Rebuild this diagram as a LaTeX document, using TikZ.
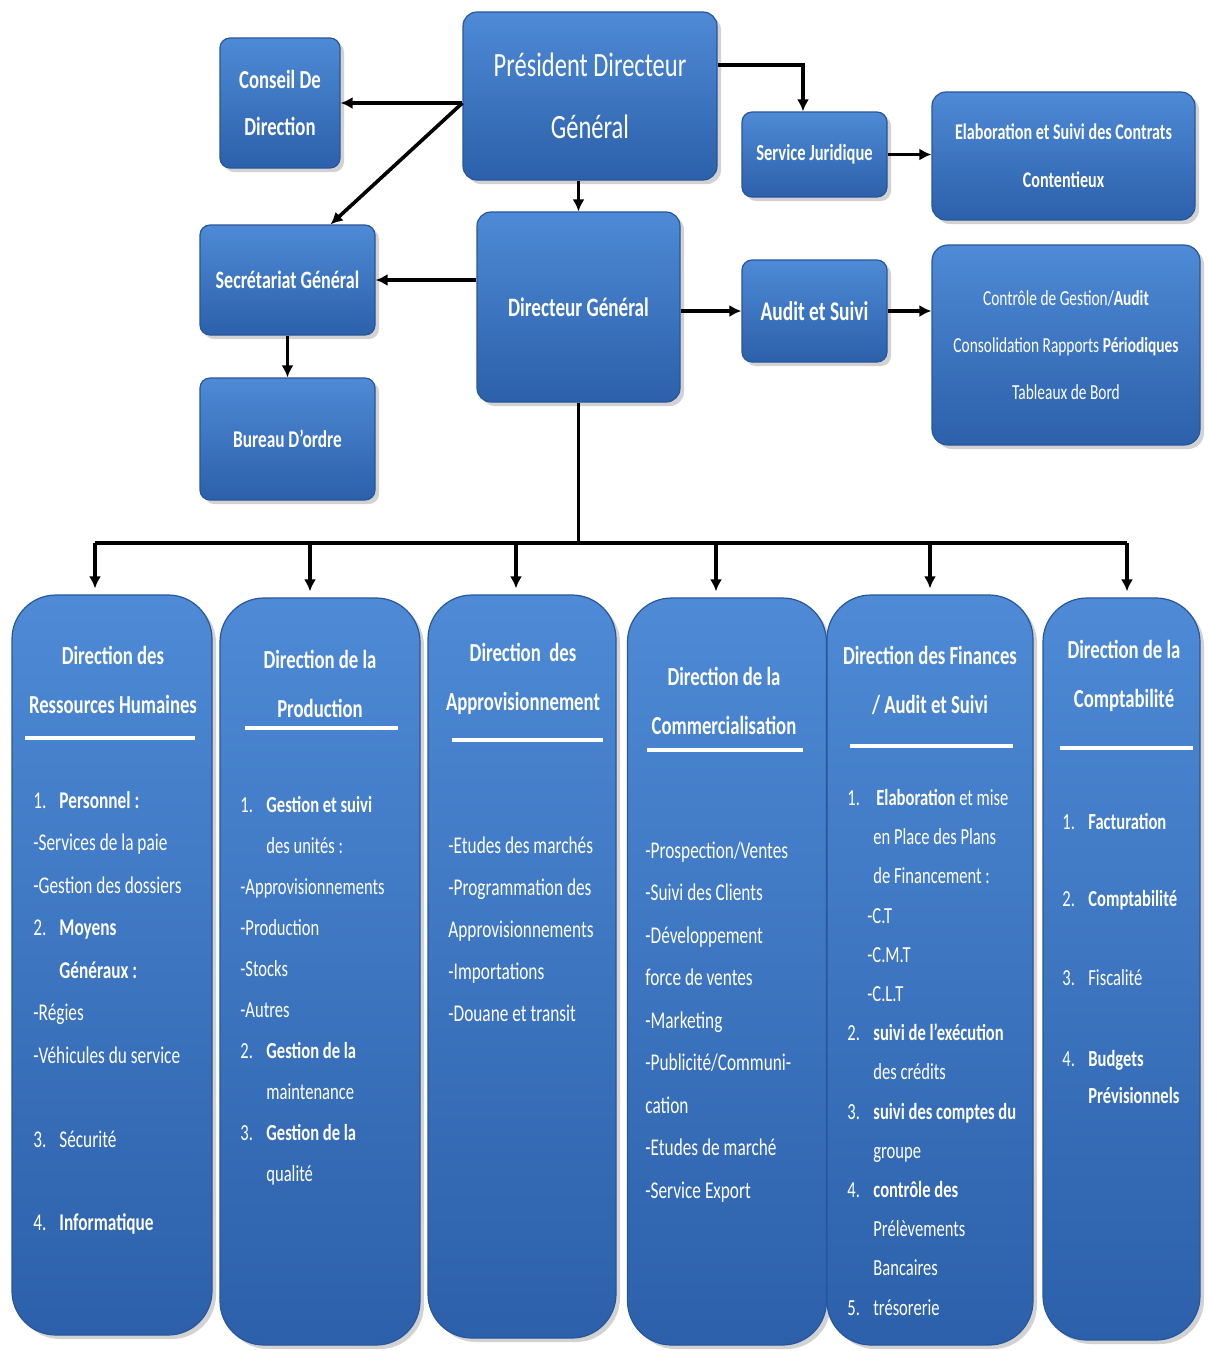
\documentclass[tikz,border=0pt]{standalone}
\usepackage{fontspec}
\setmainfont{Carlito}[FakeStretch=0.72]
\usetikzlibrary{arrows.meta,shadows}
\definecolor{boxtop}{RGB}{78,138,214}
\definecolor{boxbot}{RGB}{44,96,170}
\definecolor{boxedge}{RGB}{40,86,155}
\newlength{\nw}
\setlength{\nw}{13pt}
\newcommand{\numi}[1]{\makebox[\nw][l]{#1}}
\tikzset{
  box/.style={draw=boxedge, line width=0.6pt, rounded corners=5pt,
    top color=boxtop, bottom color=boxbot, text=white, align=center,
    inner sep=2pt,
    drop shadow={opacity=0.35, shadow xshift=2pt, shadow yshift=-2pt}},
  colbox/.style={box, rounded corners=22pt},
  arr/.style={-{Latex[length=6pt,width=6pt]}, line width=1.8pt, black},
  busline/.style={line width=1.8pt, black},
  uline/.style={white, line width=2pt},
  ttl/.style={text=white, align=center, font=\bfseries\fontsize{13}{24.5}\selectfont, inner sep=0pt},
  itm/.style={text=white, align=left, anchor=north west, inner sep=0pt}
}
\begin{document}
\begin{tikzpicture}[x=0.5pt,y=-0.5pt]
\useasboundingbox[fill=white] (0,0) rectangle (1209,1351);

% top part
\node[box, minimum width=127pt, minimum height=84pt, rounded corners=7pt,
  font=\fontsize{17}{31}\selectfont] (pdg) at (590,96) {Président Directeur\\Général};
\node[box, minimum width=60pt, minimum height=65pt,
  font=\bfseries\fontsize{13}{23.5}\selectfont] (cons) at (280,103) {Conseil De\\Direction};
\node[box, minimum width=72.5pt, minimum height=42.5pt,
  font=\bfseries\fontsize{11.5}{14}\selectfont] (sj) at (814.5,154.5) {Service Juridique};
\node[box, minimum width=131.5pt, minimum height=64pt, rounded corners=7pt,
  font=\bfseries\fontsize{11.2}{24}\selectfont] (elab) at (1063.5,156) {Elaboration et Suivi des Contrats\\Contentieux};
\node[box, minimum width=87.5pt, minimum height=55pt,
  font=\bfseries\fontsize{12.5}{15}\selectfont] (secr) at (287.5,280) {Secrétariat Général};
\node[box, minimum width=101.5pt, minimum height=95pt, rounded corners=7pt,
  font=\bfseries\fontsize{13.3}{16}\selectfont] (dg) at (578.5,307) {Directeur Général};
\node[box, minimum width=72.5pt, minimum height=51pt,
  font=\bfseries\fontsize{13.5}{16}\selectfont] (audit) at (814.5,311) {Audit et Suivi};
\node[box, minimum width=134pt, minimum height=100pt, rounded corners=8pt,
  font=\fontsize{10.7}{23.5}\selectfont] (ctrl) at (1066,345) {Contrôle de Gestion/\textbf{Audit}\\Consolidation Rapports \textbf{Périodiques}\\Tableaux de Bord};
\node[box, minimum width=87.5pt, minimum height=61pt,
  font=\bfseries\fontsize{12}{15}\selectfont] (bur) at (287.5,439) {Bureau D'ordre};

% top connectors
\draw[arr] (pdg.west |- cons.east) -- (cons.east);
\draw[arr] (pdg.west |- cons.east) -- ([xshift=-22.5pt]secr.north east);
\draw[arr] ([yshift=15.5pt]pdg.east) -| ([xshift=-5.75pt]sj.north);
\draw[arr] (pdg.south -| dg.north) -- (dg.north);
\draw[arr] (dg.west |- secr.east) -- (secr.east);
\draw[arr] (dg.east |- audit.west) -- (audit.west);
\draw[arr] (sj.east) -- (sj.east -| elab.west);
\draw[arr] (audit.east) -- (audit.east -| ctrl.west);
\draw[arr] (secr.south) -- (bur.north);

% columns
\node[colbox, minimum width=100pt, minimum height=370pt] (c1) at (112,965) {};
\node[colbox, minimum width=100pt, minimum height=373.5pt] (c2) at (320,971.5) {};
\node[colbox, minimum width=94pt, minimum height=371.5pt] (c3) at (522,966.5) {};
\node[colbox, minimum width=99.5pt, minimum height=373.5pt] (c4) at (727,971.5) {};
\node[colbox, minimum width=103pt, minimum height=375pt] (c5) at (930,970) {};
\node[colbox, minimum width=78.5pt, minimum height=371pt] (c6) at (1121.5,969) {};

% bus
\coordinate (bus) at (577,543);
\coordinate (b1) at (95,543);
\coordinate (b2) at (310,543);
\coordinate (b3) at (516,543);
\coordinate (b4) at (716,543);
\coordinate (b5) at (930,543);
\coordinate (b6) at (1127,543);
\draw[busline] (dg.south) -- (dg.south |- bus);
\draw[busline] (b1) -- (b6);
\draw[arr] (b1) -- ([yshift=3pt]b1 |- c1.north);
\draw[arr] (b2) -- ([yshift=3pt]b2 |- c2.north);
\draw[arr] (b3) -- ([yshift=3pt]b3 |- c3.north);
\draw[arr] (b4) -- ([yshift=3pt]b4 |- c4.north);
\draw[arr] (b5) -- ([yshift=3pt]b5 |- c5.north);
\draw[arr] (b6) -- ([yshift=3pt]b6 |- c6.north);

% column titles
\node[ttl] (t1) at (113,680) {Direction des\\Ressources Humaines};
\node[ttl] (t2) at (320,684) {Direction de la\\Production};
\node[ttl] (t3) at (523,679) {Direction~~des\\Approvisionnement};
\node[ttl] (t4) at (724,701) {Direction de la\\Commercialisation};
\node[ttl] (t5) at (930,680) {Direction des Finances\\/ Audit et Suivi};
\node[ttl] (t6) at (1124,676) {Direction de la\\Comptabilité};

% underlines
\draw[uline] (25,738) -- (195,738);
\draw[uline] (245,728) -- (398,728);
\draw[uline] (452,740) -- (603,740);
\draw[uline] (647,750) -- (803,750);
\draw[uline] (850,746) -- (1013,746);
\draw[uline] (1060,748) -- (1193,748);

% column contents
\node[itm, font=\fontsize{12}{21.25}\selectfont] (l1) at (33,791) {%
\numi{1.}\textbf{Personnel :}\\
-Services de la paie\\
-Gestion des dossiers\\
\numi{2.}\textbf{Moyens}\\
\hspace*{\nw}\textbf{Généraux :}\\
-Régies\\
-Véhicules du service\\[21pt]
\numi{3.}Sécurité\\[20pt]
\numi{4.}\textbf{Informatique}};

\node[itm, font=\fontsize{11.5}{20.5}\selectfont] (l2) at (240,796) {%
\numi{1.}\textbf{Gestion et suivi}\\
\hspace*{\nw}des unités :\\
-Approvisionnements\\
-Production\\
-Stocks\\
-Autres\\
\numi{2.}\textbf{Gestion de la}\\
\hspace*{\nw}maintenance\\
\numi{3.}\textbf{Gestion de la}\\
\hspace*{\nw}qualité};

\node[itm, font=\fontsize{12}{21}\selectfont] (l3) at (448,836) {%
-Etudes des marchés\\
-Programmation des\\
Approvisionnements\\
-Importations\\
-Douane et transit};

\node[itm, font=\fontsize{12}{21.25}\selectfont] (l4) at (645,841) {%
-Prospection/Ventes\\
-Suivi des Clients\\
-Développement\\
force de ventes\\
-Marketing\\
-Publicité/Communi-\\
cation\\
-Etudes de marché\\
-Service Export};

\node[itm, font=\fontsize{11.5}{19.6}\selectfont] (l5) at (847,789) {%
\numi{1.}\hspace{1.5pt}\textbf{Elaboration} et mise\\
\hspace*{\nw}en Place des Plans\\
\hspace*{\nw}de Financement :\\
\hspace*{10pt}-C.T\\
\hspace*{10pt}-C.M.T\\
\hspace*{10pt}-C.L.T\\
\numi{2.}\textbf{suivi de l'exécution}\\
\hspace*{\nw}des crédits\\
\numi{3.}\textbf{suivi des comptes du}\\
\hspace*{\nw}groupe\\
\numi{4.}\textbf{contrôle des}\\
\hspace*{\nw}Prélèvements\\
\hspace*{\nw}Bancaires\\
\numi{5.}trésorerie};

\node[itm, font=\fontsize{11.5}{18.5}\selectfont] (l6) at (1062,813) {%
\numi{1.}\textbf{Facturation}\\[20pt]
\numi{2.}\textbf{Comptabilité}\\[21pt]
\numi{3.}Fiscalité\\[22pt]
\numi{4.}\textbf{Budgets}\\
\hspace*{\nw}\textbf{Prévisionnels}};
\end{tikzpicture}
\end{document}
